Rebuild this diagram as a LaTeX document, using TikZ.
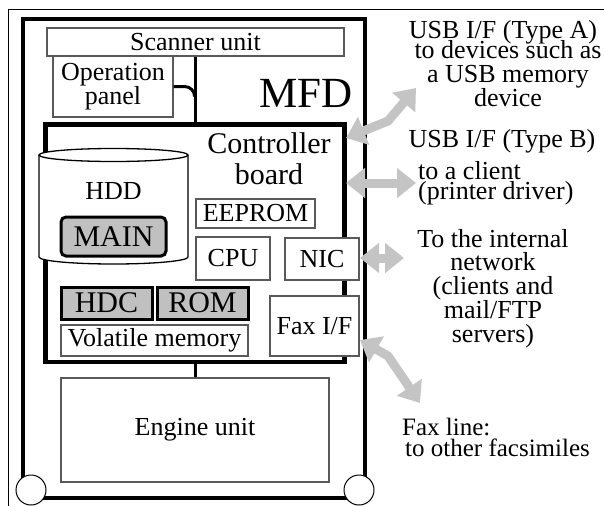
\documentclass[tikz,border=0pt]{standalone}
\usepackage{fontspec}
\setmainfont{Liberation Serif}
\usetikzlibrary{arrows.meta}

\definecolor{chipgray}{RGB}{192,192,192}
\definecolor{linkgray}{RGB}{196,196,196}
\newcommand{\bigfont}{\fontsize{30}{31}\selectfont}

\tikzset{
    unit/.style={draw=black!65, line width=1.2pt, fill=white, inner sep=0pt},
    chip/.style={draw=black, line width=3pt, fill=chipgray, inner sep=0pt},
    frame/.style={draw=black, line width=4.5pt},
    wire/.style={draw=black, line width=3pt},
    wheel/.style={circle, draw=black, line width=1pt, fill=white, minimum size=30pt, inner sep=0pt},
    link/.style={draw=linkgray, line width=9pt,
        {Triangle[width=29pt,length=19pt]}-{Triangle[width=29pt,length=19pt]}},
    note/.style={inner sep=0pt, align=center}
}

\begin{document}
\begin{tikzpicture}[x=1pt, y=-1pt, font=\fontsize{26}{24}\selectfont]
    \useasboundingbox (0,0) rectangle (604,506);
    % page border
    \draw[line width=1pt] (8,506) |- (604,9);

    % MFD housing and wheels
    \draw[frame] (23,19) rectangle (365,498);
    \node[wheel] (wheelL) at (31,490) {};
    \node[wheel] (wheelR) at (359,490) {};
    \node[inner sep=0pt, anchor=base, font=\fontsize{43}{43}\selectfont] (mfd) at (306,107) {MFD};

    % scanner and panel
    \node[unit, minimum width=297pt, minimum height=28pt] (scanner) at (195.5,42) {Scanner unit};
    \node[unit, minimum width=120pt, minimum height=61pt, align=center,
          font=\fontsize{26}{23}\selectfont] (opanel) at (113,86.5) {Operation\\panel};

    % controller board
    \node[frame, minimum width=299pt, minimum height=237.5pt, inner sep=0pt] (board) at (195,243.25) {};
    \node[note, anchor=base, font=\bigfont] (boardname) at (269,184) {Controller\\board};

    % HDD
    \draw[fill=white, line width=1.3pt] (39,155) -- (39,257)
        arc[start angle=180, end angle=0, x radius=74.5, y radius=7] -- (188,155);
    \draw[fill=white, line width=1.3pt] (113.5,155) ellipse [x radius=74.5, y radius=6.5];
    \node (hdd) at (113.5,191.5) {HDD};
    \node[chip, rounded corners=5pt, minimum width=105pt, minimum height=39pt, font=\bigfont] (main) at (113.5,236.5) {MAIN};

    % parts on the board
    \node[unit, minimum width=119pt, minimum height=29pt] (eeprom) at (255.5,213.5) {EEPROM};
    \node[unit, minimum width=74pt, minimum height=43pt] (cpu) at (233,258.5) {CPU};
    \node[unit, minimum width=74pt, minimum height=42pt] (nic) at (322,259) {NIC};
    \node[unit, minimum width=89pt, minimum height=60pt] (fax) at (314.5,326) {Fax I/F};
    \node[chip, minimum width=91pt, minimum height=32pt, font=\bigfont] (hdc) at (106.5,303) {HDC};
    \node[chip, minimum width=91pt, minimum height=32pt, font=\bigfont] (rom) at (202.5,303) {ROM};
    \node[unit, minimum width=187pt, minimum height=31pt] (volatile) at (154.5,340.5) {Volatile memory};

    % engine
    \node[unit, minimum width=268pt, minimum height=104pt] (engine) at (195,430) {Engine unit};

    % internal wiring
    \draw[wire] (scanner.south) -- (scanner.south |- board.north);
    \draw[wire] (opanel.east) -- ++(11,0) arc[start angle=270, end angle=360, radius=10];
    \draw[wire] (board.south -| engine.north) -- (engine.north);

    % outside interfaces
    \coordinate (usbAin) at (346,138);
    \coordinate (usbAbend) at (388,121);
    \coordinate (usbAout) at (416,88);
    \coordinate (usbBin) at (346,183);
    \coordinate (usbBout) at (416,183);
    \coordinate (lanin) at (360,258);
    \coordinate (lanout) at (404,258);
    \coordinate (faxin) at (360,340);
    \coordinate (faxbend) at (388,356);
    \coordinate (faxout) at (420,403);
    \draw[link] (usbAin) -- (usbAbend) -- (usbAout);
    \draw[link] (usbBin) -- (usbBout);
    \draw[link] (lanin) -- (lanout);
    \draw[link] (faxin) -- (faxbend) -- (faxout);

    \node[note, anchor=base] (typeA) at (503,38) {USB I/F (Type A)};
    \node[note, anchor=base] (typeAuse) at (508,106) {to devices such as\\a USB memory\\device};
    \node[note, anchor=base] (typeB) at (502,147) {USB I/F (Type B)};
    \node[note, anchor=base west, align=left, font=\fontsize{26}{19.5}\selectfont] (typeBuse) at (418,199) {to a client\\(printer driver)};
    \node[note, anchor=base, font=\fontsize{26}{23.75}\selectfont] (lan) at (493,342) {To the internal\\network\\(clients and\\mail/FTP\\servers)};
    \node[note, anchor=base west, align=left, font=\fontsize{25}{21}\selectfont] (faxline) at (402,456) {Fax line:\\\hspace{3pt}to other facsimiles};
\end{tikzpicture}
\end{document}
